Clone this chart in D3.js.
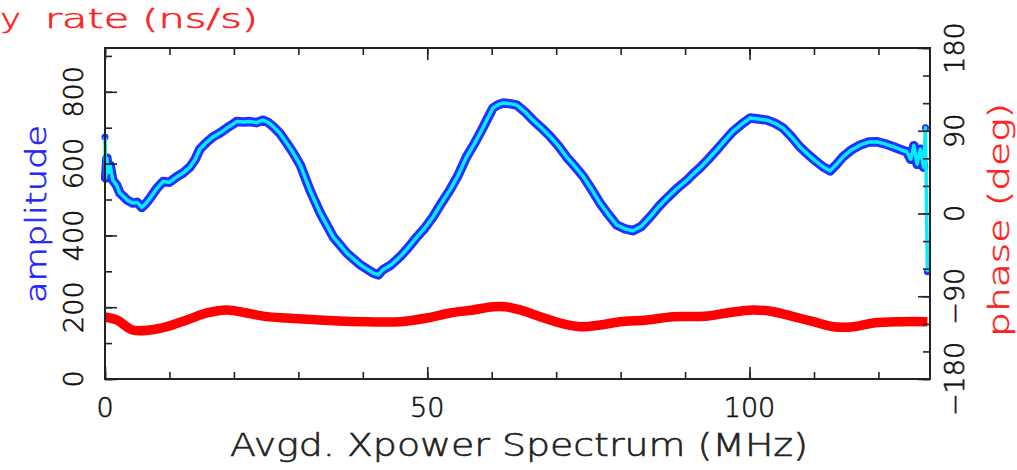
<!DOCTYPE html>
<html>
<head>
<meta charset="utf-8">
<script src="https://cdn.jsdelivr.net/npm/d3@7"></script>
<style>
  body { margin: 0; background: #fff; }
  svg { display: block; font-family: "DejaVu Sans", "Liberation Sans", sans-serif; font-weight: 200; }
  text { stroke-width: 0.6px; }
</style>
</head>
<body>
<svg width="1017" height="470"></svg>
<script>
// amplitude spectrum (MHz, amplitude)
var ampFreq = [
  0, 0.1, 0.3, 0.5, 0.8, 1.2, 1.8, 2.3, 2.9, 3.4,
  4.3, 5.0, 5.7, 6.3, 7.0, 8.0, 9.0, 10.0, 11.1, 12.2,
  13.2, 14.0, 14.7, 15.8, 16.8, 17.8, 18.9, 19.7, 20.4, 21.5,
  22.5, 23.5, 24.5, 25.3, 26.1, 27.1, 28.2, 29.2, 30.3, 31.8,
  33.4, 35.4, 37.5, 39.6, 41.6, 42.4, 43.1, 44.4, 45.8, 47.0,
  48.4, 49.6, 50.9, 52.2, 53.5, 54.8, 56.1, 57.2, 58.2, 59.2,
  60.2, 61.0, 61.8, 62.8, 63.9, 65.1, 66.4, 67.7, 69.1, 70.4,
  71.6, 72.9, 74.2, 75.5, 76.8, 78.1, 79.4, 80.7, 81.9, 83.2,
  84.6, 85.9, 87.2, 88.7, 90.3, 91.3, 92.3, 93.6, 94.9, 96.2,
  97.4, 98.8, 100.1, 101.4, 102.7, 104.0, 105.2, 106.5, 107.8, 109.1,
  110.4, 111.5, 112.5, 113.5, 114.5, 115.8, 117.2, 118.5, 119.7, 121.0,
  122.3, 123.3, 124.4, 125.0, 125.5, 126.0, 126.5, 127.0, 127.3, 127.6
];
var ampValues = [
  674, 560, 615, 575, 595, 554, 540, 518, 508, 499,
  490, 492, 478, 488, 504, 530, 550, 548, 563, 575,
  591, 612, 640, 660, 675, 685, 699, 708, 717, 716,
  717, 714, 721, 715, 703, 685, 657, 630, 596, 526,
  462, 396, 351, 318, 295, 290, 304, 318, 341, 365,
  396, 420, 452, 490, 526, 568, 619, 652, 685, 720,
  755, 764, 769, 767, 763, 745, 721, 700, 675, 648,
  619, 592, 564, 528, 490, 458, 429, 418, 413, 425,
  452, 480, 504, 530, 554, 572, 588, 612, 638, 665,
  689, 710, 727, 724, 721, 712, 699, 675, 647, 625,
  605, 590, 580, 598, 619, 638, 652, 660, 661, 655,
  647, 640, 633, 612, 650, 598, 640, 590, 700, 299
];

// phase (MHz, deg)
var phaseFreq = [
  0, 1.8, 4.3, 7.0, 9.6, 12.7, 15.8, 18.9, 22.0, 25.1,
  28.2, 30.7, 35.4, 40.6, 45.8, 49.9, 53.5, 57.1, 60.2, 62.1,
  64.4, 67.5, 70.6, 73.7, 76.8, 79.9, 84.1, 88.1, 93.1, 96.5,
  100.5, 103.7, 106.8, 109.9, 113.0, 116.1, 119.2, 123.4, 127.6
];
var phaseDeg = [
  -112.6, -115.8, -126.7, -126.7, -123.1, -115.8, -108.2, -104.9, -108.2, -112.2,
  -113.7, -114.7, -116.6, -117.7, -117.7, -113.7, -108.2, -104.9, -101.4, -101.4,
  -104.9, -112.2, -119.1, -123.1, -121.3, -117.7, -115.8, -112.2, -111.8, -108.2,
  -104.9, -106.8, -112.2, -117.7, -123.1, -123.1, -119.1, -117.7, -117.7
];

var xTicks = [0, 50, 100];
var ampTicks = [0, 200, 400, 600, 800];
var phaseTicks = [-180, -90, 0, 90, 180];

var plotLeft = 105, plotRight = 930, plotTop = 48, plotBottom = 379;

var svg = d3.select("svg");

var x = d3.scaleLinear().domain([0, 128]).range([plotLeft, plotRight]);
var yAmp = d3.scaleLinear().domain([0, 922]).range([plotBottom, plotTop]);
var yPh = d3.scaleLinear().domain([-180, 180]).range([plotBottom, plotTop]);

var amp = ampFreq.map(function(f, i) { return {f: f, v: ampValues[i]}; });
var ph = phaseFreq.map(function(f, i) { return {f: f, v: phaseDeg[i]}; });

var ampLine = d3.line()
    .x(function(d) { return x(d.f); })
    .y(function(d) { return yAmp(d.v); });

var phLine = d3.line()
    .curve(d3.curveCatmullRom)
    .x(function(d) { return x(d.f); })
    .y(function(d) { return yPh(d.v); });

// phase
svg.append("path")
    .datum(ph)
    .attr("fill", "none")
    .attr("stroke", "#ff0000")
    .attr("stroke-width", 9.5)
    .attr("stroke-linejoin", "round")
    .attr("d", phLine);

// amplitude: blue points band, cyan connecting line
svg.append("path")
    .datum(amp.slice(1, amp.length - 2))
    .attr("fill", "none")
    .attr("stroke", "#2030ff")
    .attr("stroke-width", 9.5)
    .attr("stroke-linejoin", "round")
    .attr("stroke-linecap", "round")
    .attr("d", ampLine);

svg.selectAll(".endpt")
    .data([amp[0], amp[amp.length - 2], amp[amp.length - 1]])
  .enter().append("circle")
    .attr("cx", function(d) { return x(d.f); })
    .attr("cy", function(d) { return yAmp(d.v); })
    .attr("r", 3.5)
    .attr("fill", "#2030ff");

svg.append("path")
    .datum(amp)
    .attr("fill", "none")
    .attr("stroke", "#00eeff")
    .attr("stroke-width", 3.5)
    .attr("stroke-linejoin", "round")
    .attr("d", ampLine);

// frame
svg.append("rect")
    .attr("x", plotLeft).attr("y", plotTop)
    .attr("width", plotRight - plotLeft).attr("height", plotBottom - plotTop)
    .attr("fill", "none")
    .attr("stroke", "#222")
    .attr("stroke-width", 2);

function tickAxis(axis, pos, major, minor, size) {
  var g = svg.append("g").attr("transform", pos);
  g.call(axis.tickValues(minor).tickSize(7).tickFormat(""));
  g.select(".domain").remove();
  var g2 = svg.append("g").attr("transform", pos);
  g2.call(axis.tickValues(major).tickSize(size).tickFormat(""));
  g2.select(".domain").remove();
  svg.selectAll(".tick line").attr("stroke", "#222").attr("stroke-width", 1.6);
}

tickAxis(d3.axisTop(x), "translate(0," + plotBottom + ")", xTicks, d3.range(0, 129, 10), 12);
tickAxis(d3.axisBottom(x), "translate(0," + plotTop + ")", xTicks, d3.range(0, 129, 10), 12);
tickAxis(d3.axisRight(yAmp), "translate(" + plotLeft + ",0)", ampTicks, d3.range(0, 901, 100), 12);
tickAxis(d3.axisLeft(yPh), "translate(" + plotRight + ",0)", phaseTicks, d3.range(-180, 181, 30), 12);

// tick labels
svg.selectAll(".xlab")
    .data(xTicks)
  .enter().append("text")
    .attr("x", function(d) { return x(d); })
    .attr("y", 417)
    .attr("text-anchor", "middle")
    .attr("font-size", 27)
    .attr("fill", "#111").attr("stroke", "#111")
    .text(function(d) { return d; });

svg.selectAll(".alab")
    .data(ampTicks)
  .enter().append("text")
    .attr("transform", function(d) { return "translate(83," + yAmp(d) + ") rotate(-90)"; })
    .attr("text-anchor", "middle")
    .attr("font-size", 27)
    .attr("fill", "#111").attr("stroke", "#111")
    .text(function(d) { return d; });

svg.selectAll(".plab")
    .data(phaseTicks)
  .enter().append("text")
    .attr("transform", function(d) { return "translate(964," + yPh(d) + ") rotate(-90)"; })
    .attr("text-anchor", "middle")
    .attr("font-size", 27)
    .attr("fill", "#111").attr("stroke", "#111")
    .text(function(d) { return d < 0 ? "\u2212" + Math.abs(d) : d; });

// axis titles
svg.append("text")
    .attr("transform", "translate(46,214) rotate(-90)")
    .attr("text-anchor", "middle")
    .attr("font-size", 28)
    .attr("fill", "#2222ff").attr("stroke", "#2222ff")
    .attr("textLength", 178)
    .attr("lengthAdjust", "spacingAndGlyphs")
    .text("amplitude");

svg.append("text")
    .attr("transform", "translate(1009,220) rotate(-90)")
    .attr("text-anchor", "middle")
    .attr("font-size", 28)
    .attr("fill", "#ff2222").attr("stroke", "#ff2222")
    .attr("textLength", 234)
    .attr("lengthAdjust", "spacingAndGlyphs")
    .text("phase (deg)");

svg.append("text")
    .attr("x", 519)
    .attr("y", 456)
    .attr("text-anchor", "middle")
    .attr("font-size", 32)
    .attr("fill", "#222").attr("stroke", "#222")
    .attr("textLength", 578)
    .attr("lengthAdjust", "spacingAndGlyphs")
    .text("Avgd. Xpower Spectrum (MHz)");

// title, mostly off the left edge
svg.append("text")
    .attr("x", 21)
    .attr("y", 28)
    .attr("text-anchor", "end")
    .attr("font-size", 26)
    .attr("fill", "#ff2222").attr("stroke", "#ff2222")
    .attr("textLength", 100)
    .attr("lengthAdjust", "spacingAndGlyphs")
    .text("Delay");

svg.append("text")
    .attr("x", 45)
    .attr("y", 28)
    .attr("font-size", 26)
    .attr("fill", "#ff2222").attr("stroke", "#ff2222")
    .attr("textLength", 213)
    .attr("lengthAdjust", "spacingAndGlyphs")
    .text("rate (ns/s)");
</script>
</body>
</html>
